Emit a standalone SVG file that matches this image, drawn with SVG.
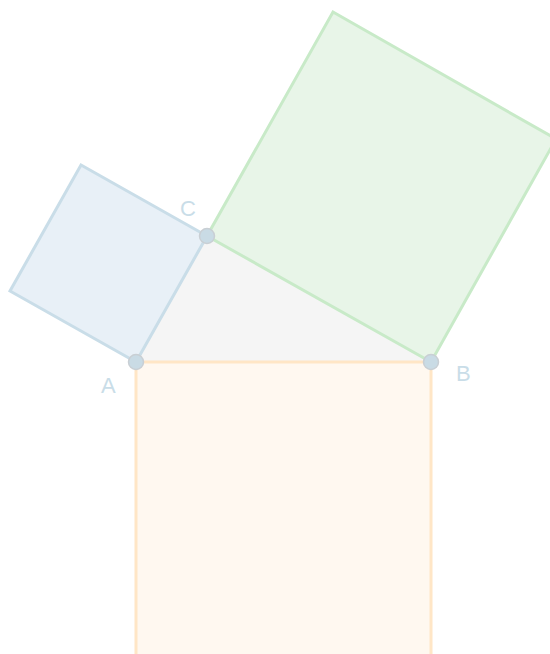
<svg xmlns="http://www.w3.org/2000/svg" width="550" height="654" viewBox="0 0 550 654">
<style>
.sq{stroke-width:3;stroke-linejoin:miter}
.pt{fill:#c9dbe5;stroke:#c9cfd4;stroke-width:1.5}
.lbl{font-family:"Liberation Sans",Arial,sans-serif;font-size:22px;fill:#c9dde8}
</style>
<rect width="550" height="654" fill="#ffffff"/>
<g id="triangle"><polygon points="136,362 431,362 207,236" fill="#f5f5f5"/></g>
<g id="squareAB"><polygon class="sq" points="136,362 431,362 431,657 136,657" fill="#fff8f0" stroke="#ffe6c6"/></g>
<g id="squareAC"><polygon class="sq" points="136,362 207,236 81,165 10,291" fill="#e8f0f7" stroke="#c9dde8"/></g>
<g id="squareCB"><polygon class="sq" points="207,236 431,362 556,139 333,12" fill="#e8f5e8" stroke="#c8eac8"/></g>
<g id="pointA"><circle class="pt" cx="136" cy="362" r="7.5"/><text class="lbl" x="101" y="393">A</text></g>
<g id="pointB"><circle class="pt" cx="431" cy="362" r="7.5"/><text class="lbl" x="456" y="381">B</text></g>
<g id="pointC"><circle class="pt" cx="207" cy="236" r="7.5"/><text class="lbl" x="180" y="216">C</text></g>
</svg>
